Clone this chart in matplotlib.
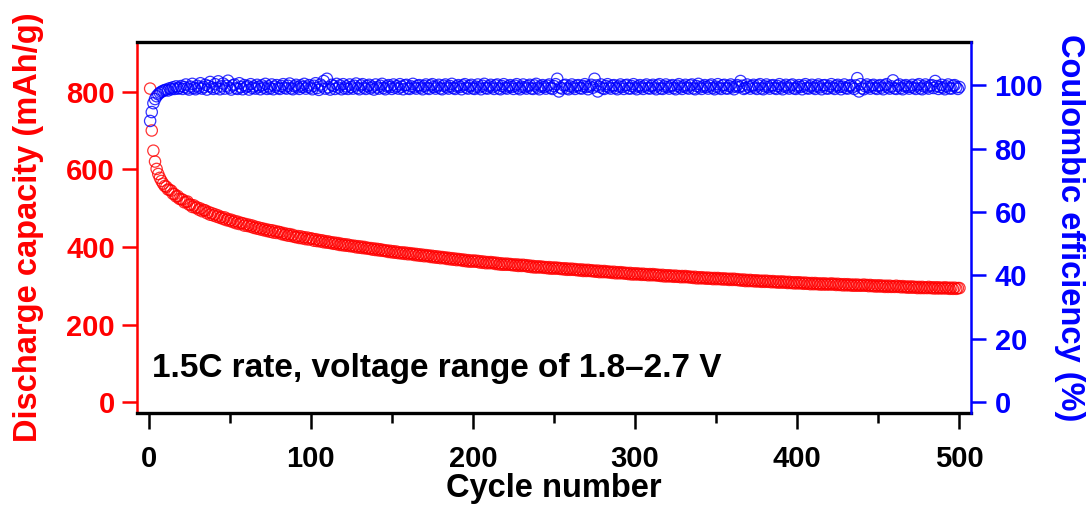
import matplotlib
matplotlib.use("Agg")
import matplotlib.pyplot as plt
import numpy as np

plt.rcParams['font.family'] = ['Liberation Sans', 'DejaVu Sans']
plt.rcParams['font.weight'] = 'bold'

# discharge capacity (mAh/g), one value per cycle 1..500
capacity = [
    808, 700, 648, 620, 601, 588, 578, 570, 563, 557,
    555, 548, 547, 545, 537, 536, 530, 531, 524, 523,
    522, 515, 516, 517, 509, 509, 503, 507, 501, 502,
    496, 499, 492, 495, 494, 487, 490, 483, 487, 481,
    484, 478, 481, 475, 477, 472, 476, 469, 472, 467,
    470, 464, 467, 461, 465, 459, 462, 461, 455, 459,
    454, 457, 452, 455, 449, 452, 447, 450, 445, 448,
    443, 446, 441, 444, 439, 443, 437, 441, 436, 439,
    438, 433, 436, 431, 434, 429, 433, 428, 431, 426,
    425, 428, 423, 427, 422, 425, 420, 424, 419, 422,
    421, 416, 420, 415, 418, 414, 417, 412, 415, 411,
    414, 410, 412, 408, 411, 407, 410, 405, 408, 404,
    407, 403, 406, 402, 404, 401, 403, 399, 402, 398,
    401, 397, 400, 396, 398, 395, 397, 393, 396, 392,
    395, 391, 394, 390, 392, 389, 391, 387, 390, 386,
    389, 385, 388, 384, 386, 383, 386, 382, 385, 381,
    384, 381, 383, 379, 382, 378, 381, 377, 380, 376,
    379, 376, 378, 374, 377, 373, 376, 372, 375, 371,
    374, 371, 373, 369, 372, 368, 371, 367, 370, 366,
    369, 366, 368, 364, 367, 363, 366, 362, 365, 362,
    365, 362, 364, 360, 363, 359, 362, 358, 361, 358,
    361, 358, 360, 356, 359, 355, 358, 354, 357, 354,
    357, 354, 356, 353, 355, 352, 355, 351, 354, 351,
    354, 351, 353, 349, 352, 348, 351, 347, 350, 347,
    350, 347, 349, 346, 348, 345, 348, 344, 347, 344,
    347, 344, 346, 343, 345, 342, 345, 341, 344, 341,
    344, 341, 343, 340, 342, 339, 342, 338, 341, 338,
    341, 338, 340, 337, 339, 336, 339, 335, 338, 335,
    338, 335, 337, 334, 336, 333, 336, 332, 335, 332,
    335, 332, 334, 331, 333, 330, 333, 329, 332, 329,
    332, 329, 331, 328, 331, 328, 330, 327, 330, 327,
    330, 327, 329, 326, 328, 325, 328, 324, 327, 324,
    327, 324, 326, 323, 326, 323, 325, 322, 325, 322,
    325, 322, 324, 321, 323, 320, 323, 319, 322, 319,
    322, 319, 321, 318, 321, 318, 320, 317, 320, 317,
    320, 317, 319, 316, 319, 316, 318, 315, 318, 315,
    318, 315, 317, 314, 316, 313, 316, 312, 315, 312,
    315, 312, 314, 311, 314, 311, 313, 310, 313, 310,
    313, 310, 312, 309, 312, 309, 311, 308, 311, 308,
    311, 308, 310, 307, 310, 307, 309, 306, 309, 306,
    309, 306, 308, 305, 308, 305, 307, 304, 307, 304,
    307, 304, 306, 303, 306, 303, 306, 303, 305, 303,
    306, 303, 305, 302, 305, 302, 304, 301, 304, 301,
    304, 301, 303, 300, 303, 300, 303, 300, 302, 300,
    303, 300, 302, 299, 302, 299, 301, 298, 301, 298,
    301, 298, 300, 297, 300, 297, 300, 297, 299, 297,
    300, 297, 299, 296, 299, 296, 298, 295, 298, 295,
    298, 295, 297, 294, 297, 294, 297, 294, 296, 294,
    297, 294, 296, 293, 296, 293, 296, 293, 295, 293,
    296, 293, 295, 292, 295, 292, 295, 292, 294, 294,
]

# coulombic efficiency (%), one value per cycle 1..500
efficiency = [
    88.7, 91.5, 94.3, 95.6, 96.5, 97.1, 97.6, 97.9, 98.2, 98.4,
    98.6, 98.3, 99.0, 98.7, 99.3, 98.8, 99.6, 98.9, 99.1, 99.7,
    98.8, 99.4, 100.2, 99.0, 98.6, 99.5, 100.4, 99.1, 98.7, 99.8,
    99.2, 100.6, 98.9, 99.4, 100.1, 98.6, 99.7, 101.0, 99.3, 98.8,
    100.3, 99.1, 101.2, 98.7, 99.6, 100.5, 98.9, 99.8, 101.4, 99.2,
    98.6, 99.9, 100.2, 99.0, 98.8, 100.6, 99.4, 98.7, 100.0, 99.3,
    99.7, 98.6, 100.3, 99.1, 99.6, 98.9, 100.1, 99.5, 98.7, 99.9,
    99.2, 100.4, 98.8, 99.6, 99.0, 100.2, 98.7, 99.5, 100.0, 99.1,
    98.8, 99.7, 100.3, 99.2, 98.9, 99.8, 100.5, 99.0, 98.7, 99.6,
    100.1, 99.3, 98.8, 99.9, 99.4, 100.4, 98.9, 99.5, 100.0, 99.2,
    98.7, 99.8, 100.6, 99.1, 98.5, 100.2, 99.6, 101.3, 98.9, 102.0,
    99.3, 98.6, 100.1, 99.7, 98.8, 100.4, 99.2, 99.9, 98.7, 100.3,
    99.0, 99.6, 98.8, 100.2, 99.4, 98.9, 99.8, 100.5, 99.1, 98.7,
    99.9, 100.3, 99.2, 98.8, 99.7, 100.1, 99.0, 99.5, 98.6, 100.2,
    99.3, 98.9, 99.8, 100.4, 99.1, 98.7, 99.6, 100.0, 99.4, 98.8,
    100.2, 99.2, 99.7, 98.9, 100.3, 99.5, 98.7, 99.9, 100.1, 99.0,
    98.8, 99.6, 100.4, 99.3, 98.9, 99.8, 100.0, 99.2, 98.7, 99.7,
    100.2, 99.1, 98.8, 99.9, 100.3, 99.4, 98.9, 99.6, 100.1, 99.0,
    98.7, 99.8, 100.2, 99.3, 98.9, 99.7, 100.4, 99.1, 98.8, 99.6,
    100.0, 99.4, 98.7, 99.9, 100.3, 99.2, 98.9, 99.7, 100.1, 99.0,
    98.8, 99.5, 100.2, 99.3, 98.7, 99.8, 100.4, 99.1, 98.9, 99.6,
    100.1, 99.3, 98.8, 99.9, 100.2, 99.0, 98.7, 99.7, 100.3, 99.2,
    98.9, 99.6, 100.0, 99.4, 98.8, 99.8, 100.3, 99.1, 98.7, 99.5,
    100.2, 99.3, 98.9, 99.7, 100.1, 99.0, 98.8, 99.9, 100.4, 99.2,
    98.7, 99.6, 100.0, 99.4, 98.9, 99.8, 100.2, 99.1, 98.8, 99.7,
    100.3, 102.0, 98.0, 99.2, 98.9, 99.9, 100.1, 99.0, 98.7, 99.6,
    100.2, 99.3, 98.8, 99.8, 100.0, 99.1, 98.9, 99.7, 100.3, 99.4,
    98.7, 99.6, 100.1, 99.2, 102.0, 99.9, 98.0, 99.5, 100.2, 99.0,
    98.8, 99.7, 100.3, 99.3, 98.9, 99.8, 100.0, 99.1, 98.7, 99.6,
    100.2, 99.4, 98.8, 99.9, 100.1, 99.0, 98.9, 99.7, 100.3, 99.2,
    98.7, 99.6, 100.0, 99.3, 98.8, 99.8, 100.2, 99.1, 98.9, 99.7,
    100.1, 99.2, 98.7, 99.9, 100.3, 99.0, 98.8, 99.6, 100.2, 99.4,
    98.9, 99.7, 100.0, 99.1, 98.7, 99.8, 100.3, 99.3, 98.8, 99.6,
    100.1, 99.2, 98.9, 99.9, 100.2, 99.0, 98.7, 99.7, 100.4, 99.3,
    98.8, 99.6, 100.0, 99.4, 98.9, 99.8, 100.2, 99.1, 98.7, 99.5,
    100.3, 99.2, 98.8, 99.9, 100.1, 99.0, 98.9, 99.7, 100.2, 99.3,
    98.7, 99.6, 100.0, 99.4, 101.3, 99.8, 98.8, 99.1, 100.2, 99.5,
    98.9, 99.7, 100.1, 99.2, 98.8, 99.9, 100.3, 99.0, 98.7, 99.6,
    100.2, 99.4, 98.9, 99.8, 100.0, 99.1, 98.8, 99.7, 100.3, 99.2,
    98.7, 99.6, 100.1, 99.3, 98.9, 99.9, 100.2, 99.0, 98.8, 99.5,
    100.0, 99.4, 98.7, 99.8, 100.3, 99.1, 98.9, 99.6, 100.1, 99.2,
    98.8, 99.7, 100.2, 99.3, 98.7, 99.9, 100.0, 99.0, 98.9, 99.6,
    100.3, 99.2, 98.8, 99.8, 100.1, 99.4, 98.7, 99.5, 100.2, 99.1,
    98.9, 99.7, 100.0, 99.3, 98.8, 99.9, 102.2, 98.0, 100.3, 99.0,
    98.7, 99.6, 100.2, 99.4, 98.9, 99.8, 100.1, 99.1, 98.8, 99.7,
    100.0, 99.2, 98.7, 99.9, 100.3, 99.3, 98.9, 99.6, 101.5, 99.0,
    98.8, 99.8, 100.2, 99.1, 98.7, 99.7, 100.0, 99.4, 98.9, 99.5,
    100.1, 99.2, 98.8, 99.9, 100.3, 99.0, 98.7, 99.6, 100.2, 99.3,
    98.9, 99.8, 100.0, 99.1, 101.3, 99.7, 98.8, 99.4, 100.1, 99.2,
    98.7, 99.6, 100.2, 99.0, 98.9, 99.8, 100.0, 99.3, 98.8, 99.4,
]

cycles = np.arange(1, len(capacity) + 1)

x_ticks = [0, 100, 200, 300, 400, 500]
cap_ticks = [0, 200, 400, 600, 800]
ce_ticks = [0, 20, 40, 60, 80, 100]
note = "1.5C rate, voltage range of 1.8\u20132.7 V"

RED = "#ff0000"
BLUE = "#0000ff"

fig = plt.figure(figsize=(10.88, 5.09), dpi=100)
ax = fig.add_axes([137 / 1088, 1 - 412.5 / 509, 834 / 1088, 370.5 / 509])
ax2 = ax.twinx()

ax.scatter(cycles, capacity, s=66, facecolors="none", edgecolors=RED,
           linewidths=0.9, alpha=0.8, zorder=3)
ax2.scatter(cycles, efficiency, s=66, facecolors="none", edgecolors=BLUE,
            linewidths=0.9, alpha=0.8, zorder=3)

ax.set_xlim(-7.1, 507.1)
ax.set_ylim(-26.6, 928)
ax2.set_ylim(-3.25, 113.6)

ax.set_xticks(x_ticks)
ax.set_xticks([50, 150, 250, 350, 450], minor=True)
ax.set_yticks(cap_ticks)
ax2.set_yticks(ce_ticks)

fs_tick = 21
fs_lab = 23.5
ax.tick_params(axis="x", which="major", direction="out", length=11.5, width=1.8,
               labelsize=fs_tick, pad=12, colors="black")
ax.tick_params(axis="x", which="minor", direction="out", length=7, width=1.8)
ax.tick_params(axis="y", direction="out", length=11, width=1.8,
               labelsize=fs_tick, pad=5, colors=RED)
ax2.tick_params(axis="y", direction="out", length=11, width=1.8,
                labelsize=fs_tick, pad=6, colors=BLUE)
for lab in ax.get_xticklabels() + ax.get_yticklabels() + ax2.get_yticklabels():
    lab.set_fontweight("bold")

ax.spines["left"].set_color(RED)
ax.spines["left"].set_linewidth(1.8)
ax.spines["top"].set_linewidth(2.4)
ax.spines["bottom"].set_linewidth(2.4)
ax.spines["right"].set_visible(False)
ax2.spines["left"].set_visible(False)
ax2.spines["top"].set_visible(False)
ax2.spines["bottom"].set_visible(False)
ax2.spines["right"].set_color(BLUE)
ax2.spines["right"].set_linewidth(1.8)

ax.set_xlabel("Cycle number", fontsize=fs_lab, fontweight="bold", labelpad=0)
ax.set_ylabel("Discharge capacity (mAh/g)", fontsize=fs_lab, fontweight="bold",
              color=RED, labelpad=16)
ax2.set_ylabel("Coulombic efficiency (%)", fontsize=fs_lab, fontweight="bold",
               color=BLUE, rotation=270, labelpad=30)

ax.text(0.018, 0.095, note, transform=ax.transAxes, fontsize=24,
        fontweight="bold", ha="left", va="baseline")

fig.savefig("out.png", dpi=100)
